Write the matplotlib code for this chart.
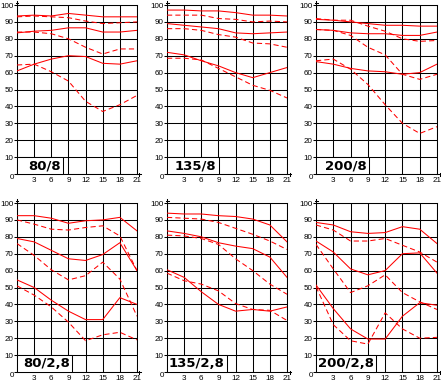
import matplotlib
matplotlib.use('Agg')
import matplotlib.pyplot as plt
from matplotlib.lines import Line2D
from matplotlib.patches import Rectangle

# ---- data ----
x_pos = [0, 3, 6, 9, 12, 15, 18, 21]
x_ticks = [0, 3, 6, 9, 12, 15, 18, 21]
x_labels = ['', '3', '6', '9', '12', '15', '18', '21']
y_ticks = [0, 10, 20, 30, 40, 50, 60, 70, 80, 90, 100]
y_labels = ['', '10', '20', '30', '40', '50', '60', '70', '80', '90', '100']

panel_names = ['80/8', '135/8', '200/8', '80/2,8', '135/2,8', '200/2,8']

solid_80_8 = [[93.5, 94, 93.5, 95, 94, 93, 93, 93],
              [83.5, 84.5, 85, 86.5, 86.5, 84, 84, 85],
              [61, 65, 68, 70, 69.5, 65.5, 65, 67]]
dashed_80_8 = [[93, 93.5, 93, 92.5, 90.5, 89, 89.5, 90],
               [84, 84, 83, 80, 75, 71, 74, 74],
               [64.5, 65, 60.5, 55, 43, 37, 41, 46.5]]

solid_135_8 = [[97, 97, 96.5, 96.5, 95.5, 94, 94, 93.5],
               [89, 88, 87, 86, 83.5, 83, 83.5, 84],
               [72, 70.5, 67, 64, 60, 57, 60, 63]]
dashed_135_8 = [[94, 94, 94, 92, 91.5, 90, 90.5, 90],
                [86, 86, 85, 82.5, 81, 77.5, 77, 75],
                [68.5, 68.5, 67.5, 62.5, 57.5, 52.5, 49.5, 45]]

solid_200_8 = [[91.5, 91, 90, 89, 88, 88, 87.5, 87.5],
               [85.5, 85, 83.5, 83, 83, 82, 82, 84],
               [66.5, 65, 62.5, 61, 60.5, 59, 60, 65]]
dashed_200_8 = [[92, 91, 91, 87.5, 84.5, 80, 78.5, 79],
                [85.5, 85, 82, 75, 70.5, 59, 56, 59],
                [67, 68, 62, 53, 41, 30, 24, 28]]

solid_80_28 = [[92.5, 92.5, 91, 88, 89.5, 90, 91.5, 83.5],
               [79, 77, 72, 67, 66, 69.5, 76.5, 60],
               [54.5, 50, 42.5, 36, 31, 31, 44, 40]]
dashed_80_28 = [[90, 87.5, 84.5, 84, 85.5, 86.5, 80.5, 60],
                [76, 69, 60.5, 54.5, 57, 65, 55, 33],
                [51, 45.5, 38.5, 29.5, 18.5, 22, 23.5, 19]]

solid_135_28 = [[94, 93.5, 93.5, 92.5, 92, 90.5, 87, 77],
                [83.5, 82, 80, 76.5, 74.5, 73, 68, 56],
                [60.5, 56, 47.5, 40, 36, 37, 36, 38.5]]
dashed_135_28 = [[91.5, 91, 90.5, 88.5, 85, 81.5, 77.5, 72.5],
                 [81, 80.5, 79, 75.5, 67, 60, 52, 46],
                 [58.5, 54, 52, 48, 40.5, 37, 36.5, 30.5]]

solid_200_28 = [[88.5, 87, 83, 82, 82.5, 86, 84.5, 76],
                [77.5, 71, 61, 57.5, 60, 70, 70.5, 58.5],
                [51.5, 37.5, 25.5, 19.5, 19.5, 33, 41, 39.5]]
dashed_200_28 = [[87, 84, 77.5, 77.5, 79, 75, 71, 65],
                 [75.5, 61, 47, 51, 57.5, 47, 41.5, 37],
                 [50.5, 28, 18.5, 16.5, 35, 25.5, 20, 20.5]]

solids = [solid_80_8, solid_135_8, solid_200_8, solid_80_28, solid_135_28, solid_200_28]
dashes = [dashed_80_8, dashed_135_8, dashed_200_8, dashed_80_28, dashed_135_28, dashed_200_28]

# ---- layout (pixels) ----
W, H = 441, 382
cols = [(17, 120), (167, 120), (316, 121)]
rows = [(5, 169), (203, 169)]
label_pad_px = [11, 8, 9, 6, 2, 2]

tick_font = ['Liberation Sans Narrow', 'Liberation Sans']
TFS = 5.8
LW = 0.75

fig = plt.figure(figsize=(W / 100, H / 100), dpi=100)
fig.patch.set_facecolor('white')

axes = []
texts = []
for i in range(6):
    r, c = divmod(i, 3)
    left, w = cols[c]
    top, h = rows[r]
    ax = fig.add_axes([left / W, 1 - (top + h) / H, w / W, h / H])
    ax.set_xlim(0, 21)
    ax.set_ylim(0, 100)
    ax.set_xticks(x_ticks)
    ax.set_xticklabels(x_labels, family=tick_font, fontsize=TFS)
    ax.set_yticks(y_ticks)
    ax.set_yticklabels(y_labels, family=tick_font, fontsize=TFS)
    ax.set_axisbelow(True)
    ax.grid(True, color='black', lw=LW)
    ax.tick_params(axis='x', length=0, pad=1.8)
    ax.tick_params(axis='y', length=2.0, width=LW, pad=0.5, color='black')
    for sp in ax.spines.values():
        sp.set_color('black')
        sp.set_linewidth(LW)

    for s in solids[i]:
        ax.plot(x_pos, s, color='#ff0000', lw=LW, zorder=3)
    for d in dashes[i]:
        ax.plot(x_pos, d, color='#ff0000', lw=LW, ls=(0, (5, 3)), zorder=3)

    # "0" corner label
    ax.annotate('0', xy=(0, 0), xycoords='axes fraction', xytext=(-3, -3.5),
                textcoords='offset pixels', ha='right', va='center',
                family=tick_font, fontsize=TFS)

    # arrow-ish tips at axis ends
    x0 = left / W
    y_top = 1 - top / H
    y_bot = 1 - (top + h) / H
    x_right = (left + w) / W
    fig.add_artist(Line2D([x0, x0], [y_top, y_top + 4 / H], color='black', lw=LW))
    fig.add_artist(Line2D([x0 - 1.5 / W, x0 + 1.5 / W], [y_top + 2.5 / H] * 2, color='black', lw=LW))
    fig.add_artist(Line2D([x_right, x_right + 4 / W], [y_bot, y_bot], color='black', lw=LW))
    fig.add_artist(Line2D([x_right + 2.5 / W] * 2, [y_bot - 1.5 / H, y_bot + 1.5 / H], color='black', lw=LW))

    px_per_unit = w / 21
    t = ax.text(label_pad_px[i] / px_per_unit, 5, panel_names[i], ha='left', va='center',
                fontsize=9.5, fontweight='bold', family='DejaVu Sans', zorder=6)
    axes.append((ax, px_per_unit))
    texts.append(t)

fig.canvas.draw()
renderer = fig.canvas.get_renderer()
for (ax, ppu), t in zip(axes, texts):
    bb = t.get_window_extent(renderer)
    x1 = ax.transData.inverted().transform((bb.x1, bb.y1))[0]
    width = x1 + 2 / ppu
    ax.add_patch(Rectangle((0, 0), width, 10, facecolor='white', edgecolor='black',
                           lw=LW, zorder=5, clip_on=False))

fig.savefig('out.png', dpi=100, facecolor='white')
